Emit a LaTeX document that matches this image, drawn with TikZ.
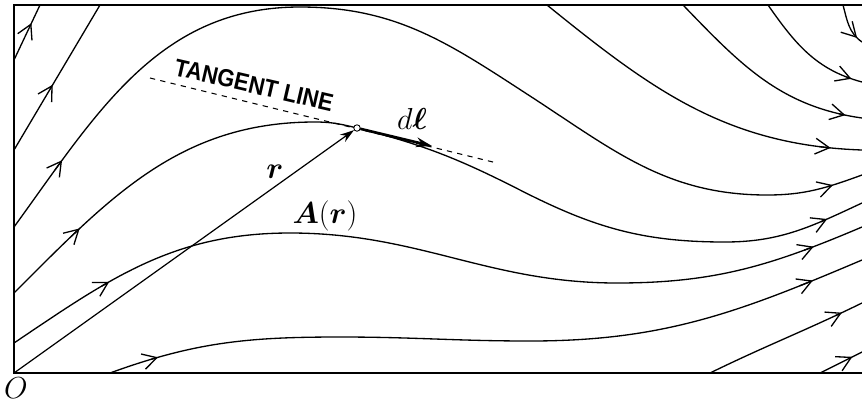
\documentclass[tikz,border=0pt]{standalone}
\usepackage{fontspec}
\usepackage{bm}
\usetikzlibrary{arrows.meta}
\newfontfamily\tanfont{Liberation Sans}[FakeStretch=0.9]

\begin{document}
\begin{tikzpicture}[x=0.02cm,y=-0.02cm,
  fl/.style={line width=0.75pt},
  barb/.style={line width=0.75pt,-{Straight Barb[length=8pt,width=9pt]}},
  lbl/.style={font=\fontsize{16}{19}\selectfont}]
\useasboundingbox (0,0) rectangle (862,400);

% frame
\draw[line width=0.8pt] (862,5) -- (14,5) -- (14,373) -- (862,373);

% field lines, left
\draw[fl] (14,60) -- coordinate[pos=.62] (a1) coordinate[pos=.67] (b1) (40,5);
\draw[fl] (14,150) -- coordinate[pos=.42] (a2) coordinate[pos=.45] (b2) (100,5);
\draw[fl] (14,227) to[out=54,in=180] coordinate[pos=.17] (a3) coordinate[pos=.2] (b3) (300,7)
  to[out=0,in=147] (530,96) to[out=-33,in=180] (767,195)
  to[out=0,in=200] coordinate[pos=.64] (c3) coordinate[pos=.7] (d3) (862,175);
\draw[fl] (14,293) to[out=45,in=180] coordinate[pos=.21] (a4) coordinate[pos=.24] (b4) (315,122)
  to[out=0,in=166] (357,128) to[out=-14,in=153] (520,190) to[out=-27,in=180] (725,242)
  to[out=0,in=205] coordinate[pos=.7] (c4) coordinate[pos=.75] (d4) (862,203);
\draw[fl] (14,343) to[out=34,in=180] coordinate[pos=.33] (a5) coordinate[pos=.36] (b5) (290,233)
  to[out=0,in=180] (617,283)
  to[out=0,in=203] coordinate[pos=.77] (c5) coordinate[pos=.81] (d5) (862,227);
\draw[fl] (110,373) to[out=20,in=180] coordinate[pos=.17] (a6) coordinate[pos=.2] (b6) (340,337)
  to[out=0,in=180] (530,341)
  to[out=0,in=203] coordinate[pos=.82] (c6) coordinate[pos=.86] (d6) (862,260);

% field lines, right
\draw[fl] (710,373) to[out=26,in=206] coordinate[pos=.84] (a7) coordinate[pos=.88] (b7) (862,303);
\draw[fl] (820,373) -- coordinate[pos=.7] (a8) coordinate[pos=.77] (b8) (862,352);
\draw[fl] (843,5) to[out=-75,in=145] coordinate[pos=.8] (a9) coordinate[pos=.86] (b9) (862,42);
\draw[fl] (768,5) to[out=-55,in=165] coordinate[pos=.88] (a10) coordinate[pos=.92] (b10) (862,82);
\draw[fl] (683,5) to[out=-46,in=172] coordinate[pos=.9] (a11) coordinate[pos=.93] (b11) (862,118);
\draw[fl] (547,5) to[out=-39,in=178] coordinate[pos=.89] (a12) coordinate[pos=.92] (b12) (862,150);

% arrow marks on the lines
\foreach \i in {1,...,12} \draw[barb] (a\i) -- (b\i);
\foreach \i in {3,4,5,6} \draw[barb] (c\i) -- (d\i);

% tangent line
\coordinate (t1) at (150,78);
\coordinate (t2) at (497,163);
\draw[dashed,line width=0.6pt] (t1) -- (t2);

% point and vectors
\node[circle,draw,fill=white,inner sep=1.3pt,line width=0.5pt] (P) at (357,128) {};
\coordinate (O) at (14,373);
\coordinate (dl) at (432,146);
\draw[line width=0.7pt,-{Stealth[length=8pt,width=5pt]}] (O) -- (P);
\draw[line width=1.5pt,-{Stealth[length=9pt,width=5.5pt]}] (P) -- (dl);

% labels
\node[lbl] (lO) at (16,388) {$O$};
\node[lbl] (lr) at (275,172) {$\bm{r}$};
\node[lbl] (lA) at (325,216) {$\bm{A}(\bm{r})$};
\node[lbl] (ldl) at (412,119) {$d\bm{\ell}$};
\node[rotate=-13,font=\tanfont\bfseries\fontsize{14}{16}\selectfont] (tan) at (254,85) {TANGENT LINE};
\end{tikzpicture}
\end{document}
